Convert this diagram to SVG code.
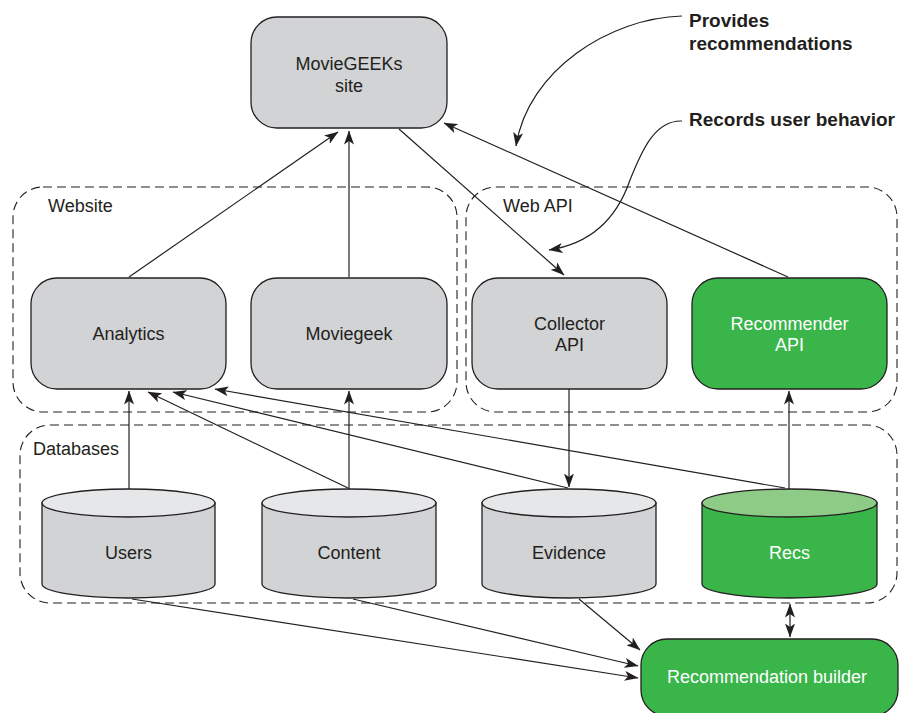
<svg xmlns="http://www.w3.org/2000/svg" width="899" height="713" viewBox="0 0 899 713">
<defs>
<marker id="ah" viewBox="0 0 14 10" refX="13.5" refY="5" markerWidth="14" markerHeight="10" markerUnits="userSpaceOnUse" orient="auto-start-reverse">
<path d="M0,0 L14,5 L0,10 L3.5,5 z" fill="#231f20"/>
</marker>
<style>
.bg{fill:#ffffff}
.grp{fill:none;stroke:#231f20;stroke-width:1.1;stroke-dasharray:9 5}
.gl{font-family:"Liberation Sans",Arial,sans-serif;font-size:18px;fill:#231f20}
.box{fill:#d1d3d4;stroke:#231f20;stroke-width:1.3}
.gbox{fill:#39b54a;stroke:#231f20;stroke-width:1.3}
.top{fill:#e6e7e8;stroke:#231f20;stroke-width:1.3}
.gtop{fill:#8dcb87;stroke:#231f20;stroke-width:1.3}
.t{font-family:"Liberation Sans",Arial,sans-serif;font-size:18px;fill:#231f20;text-anchor:middle}
.tw{font-family:"Liberation Sans",Arial,sans-serif;font-size:18px;fill:#ffffff;text-anchor:middle}
.ca{fill:none;stroke:#231f20;stroke-width:1.2;marker-end:url(#ah)}
.note{font-family:"Liberation Sans",Arial,sans-serif;font-size:19px;font-weight:bold;fill:#231f20}
</style>
</defs>
<rect class="bg" x="0" y="0" width="899" height="713"/>

<g id="groups">
<rect class="grp" x="13" y="187" width="444" height="225" rx="30"/>
<text class="gl" x="48" y="212">Website</text>
<rect class="grp" x="466" y="187" width="431" height="225" rx="30"/>
<text class="gl" x="503" y="212">Web API</text>
<rect class="grp" x="20" y="425" width="877" height="178" rx="30"/>
<text class="gl" x="33" y="455">Databases</text>
</g>

<g id="connectors">
<line class="ca" x1="129" y1="277" x2="338" y2="132"/>
<line class="ca" x1="349" y1="277" x2="349" y2="131"/>
<line class="ca" x1="399" y1="129" x2="564" y2="275"/>
<line class="ca" x1="788" y1="277" x2="444" y2="123"/>
<line class="ca" x1="129" y1="489" x2="129" y2="391"/>
<line class="ca" x1="348" y1="488" x2="148" y2="392"/>
<line class="ca" x1="349" y1="489" x2="349" y2="391"/>
<line class="ca" x1="568" y1="488" x2="173" y2="392"/>
<line class="ca" x1="785" y1="488" x2="215" y2="389"/>
<line class="ca" x1="569" y1="389" x2="569" y2="487"/>
<line class="ca" x1="789" y1="489" x2="789" y2="391"/>
<line class="ca" x1="132" y1="599" x2="638" y2="678"/>
<line class="ca" x1="353" y1="599" x2="638" y2="666"/>
<line class="ca" x1="579" y1="599" x2="640" y2="650"/>
<line class="ca" x1="790" y1="620" x2="790" y2="604"/>
<line class="ca" x1="790" y1="620" x2="790" y2="637"/>
<path class="ca" d="M682 16 C610 18 528 70 516 146"/>
<path class="ca" d="M682 121 C655 120 642 150 630 180 C618 215 595 243 549 250"/>
</g>

<g id="site">
<rect class="box" x="251" y="17" width="196" height="111" rx="26"/>
<text class="t" x="349" y="70">MovieGEEKs</text>
<text class="t" x="349" y="92">site</text>
</g>

<g id="analytics">
<rect class="box" x="31" y="278" width="195" height="111" rx="26"/>
<text class="t" x="128.5" y="340">Analytics</text>
</g>

<g id="moviegeek">
<rect class="box" x="251" y="278" width="196" height="111" rx="26"/>
<text class="t" x="349" y="340">Moviegeek</text>
</g>

<g id="collector">
<rect class="box" x="472" y="278" width="195" height="111" rx="26"/>
<text class="t" x="569.5" y="330">Collector</text>
<text class="t" x="569.5" y="351">API</text>
</g>

<g id="recommender">
<rect class="gbox" x="692" y="278" width="195" height="111" rx="26"/>
<text class="tw" x="789.5" y="330">Recommender</text>
<text class="tw" x="789.5" y="351">API</text>
</g>

<g id="users">
<path class="box" d="M42 503 L42 584 A86.5 14 0 0 0 215 584 L215 503 Z"/>
<ellipse class="top" cx="128.5" cy="503" rx="86.5" ry="14"/>
<text class="t" x="128.5" y="559">Users</text>
</g>

<g id="content">
<path class="box" d="M262 503 L262 584 A87 14 0 0 0 436 584 L436 503 Z"/>
<ellipse class="top" cx="349" cy="503" rx="87" ry="14"/>
<text class="t" x="349" y="559">Content</text>
</g>

<g id="evidence">
<path class="box" d="M482 503 L482 584 A87 14 0 0 0 656 584 L656 503 Z"/>
<ellipse class="top" cx="569" cy="503" rx="87" ry="14"/>
<text class="t" x="569" y="559">Evidence</text>
</g>

<g id="recs">
<path class="gbox" d="M702 503 L702 584 A87.5 14 0 0 0 877 584 L877 503 Z"/>
<ellipse class="gtop" cx="789.5" cy="503" rx="87.5" ry="14"/>
<text class="tw" x="789.5" y="559">Recs</text>
</g>

<g id="builder">
<rect class="gbox" x="641" y="639" width="257" height="77" rx="26"/>
<text class="tw" x="767" y="683">Recommendation builder</text>
</g>

<g id="notes">
<text class="note" x="689" y="27">Provides</text>
<text class="note" x="689" y="50">recommendations</text>
<text class="note" x="689" y="126">Records user behavior</text>
</g>
</svg>
